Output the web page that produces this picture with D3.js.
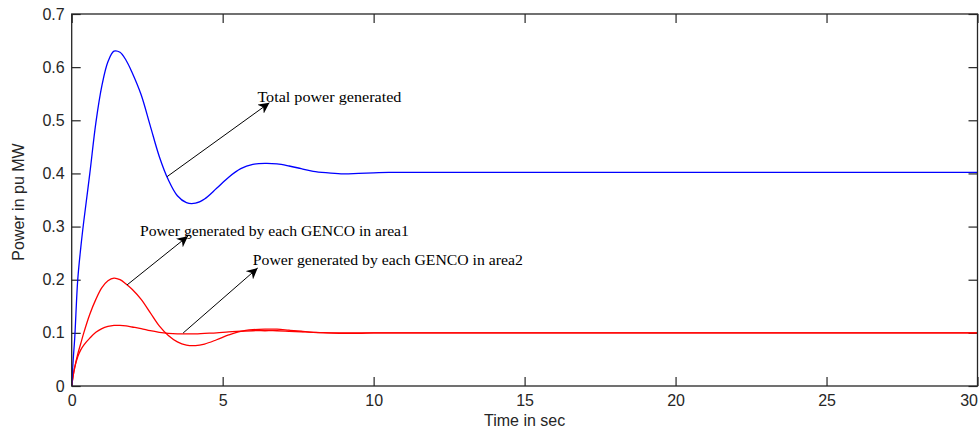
<!DOCTYPE html>
<html>
<head>
<meta charset="utf-8">
<script src="https://cdn.jsdelivr.net/npm/d3@7"></script>
<style>
  html, body { margin: 0; padding: 0; background: #fff; overflow: hidden; }
  svg { display: block; overflow: visible; }
</style>
</head>
<body>
<div id="chart"></div>
<script>
// Power generated vs time (step response, pu MW)

const time = [0, 0.05, 0.1, 0.2, 0.3, 0.4, 0.6, 0.8, 1.0, 1.2, 1.4, 1.6, 1.8, 2.0, 2.3, 2.6, 2.9, 3.2, 3.5, 3.8,
  4.1, 4.4, 4.8, 5.2, 5.6, 6.0, 6.4, 6.8, 7.2, 7.6, 8.0, 8.5, 9.0, 9.5, 10, 10.5, 11, 12, 14, 16, 20, 25, 30];

const totalPower = [0, 0.05, 0.09, 0.2, 0.26, 0.31, 0.40, 0.495, 0.565, 0.61, 0.63, 0.628, 0.613, 0.59, 0.548, 0.49, 0.432, 0.388, 0.358, 0.345,
  0.344, 0.352, 0.372, 0.393, 0.409, 0.417, 0.419, 0.418, 0.414, 0.409, 0.404, 0.401, 0.399, 0.400, 0.401, 0.402, 0.402, 0.402, 0.402, 0.402, 0.402, 0.402, 0.402];

const area1Power = [0, 0.02, 0.035, 0.06, 0.08, 0.1, 0.135, 0.163, 0.185, 0.198, 0.203, 0.2, 0.192, 0.182, 0.163, 0.138, 0.113, 0.095, 0.083, 0.077,
  0.076, 0.079, 0.087, 0.096, 0.103, 0.106, 0.107, 0.107, 0.105, 0.103, 0.101, 0.1, 0.099, 0.099, 0.1, 0.1, 0.1, 0.1, 0.1, 0.1, 0.1, 0.1, 0.1];

const area2Power = [0, 0.02, 0.035, 0.055, 0.068, 0.077, 0.09, 0.101, 0.108, 0.112, 0.114, 0.114, 0.113, 0.111, 0.108, 0.104, 0.101, 0.099, 0.098, 0.098,
  0.098, 0.099, 0.1, 0.102, 0.103, 0.104, 0.104, 0.104, 0.103, 0.102, 0.101, 0.1, 0.1, 0.1, 0.1, 0.1, 0.1, 0.1, 0.1, 0.1, 0.1, 0.1, 0.1];

const xTicks = [0, 5, 10, 15, 20, 25, 30];
const yTicks = [0, 0.1, 0.2, 0.3, 0.4, 0.5, 0.6, 0.7];
const yTickLabels = ["0", "0.1", "0.2", "0.3", "0.4", "0.5", "0.6", "0.7"];

// annotation text + arrow (from -> to) in data units
const annotationTexts = ["Total power generated", "Power generated by each GENCO in area1", "Power generated by each GENCO in area2"];
const annotationTextAt = [[6.15, 0.544], [2.26, 0.292], [6.0, 0.237]];
const arrowFrom = [[3.16, 0.394], [1.83, 0.19], [3.69, 0.0997]];
const arrowTo = [[6.55, 0.533], [3.85, 0.282], [6.16, 0.222]];

const width = 979;
const height = 434;
const margin = {top: 14, right: 1.5, bottom: 48, left: 71.7};
const innerWidth = width - margin.left - margin.right;
const innerHeight = height - margin.top - margin.bottom;

const svg = d3.select("#chart")
  .append("svg")
  .attr("width", width)
  .attr("height", height);

const g = svg.append("g")
  .attr("transform", `translate(${margin.left}, ${margin.top})`);

const x = d3.scaleLinear().domain([0, 30]).range([0, innerWidth]);
const y = d3.scaleLinear().domain([0, 0.7]).range([innerHeight, 0]);

const axisColor = "#262626";
const font = "'Liberation Sans', Arial, sans-serif";

function styleAxis(sel) {
  sel.select(".domain").remove();
  sel.selectAll(".tick line").attr("stroke", axisColor).attr("stroke-width", 1.2);
  sel.selectAll(".tick text").attr("fill", axisColor).style("font-family", font).style("font-size", "16px");
}

function noLabels(sel) {
  sel.selectAll(".tick text").remove();
}

g.append("g")
  .attr("transform", `translate(0, ${innerHeight})`)
  .call(d3.axisBottom(x).tickValues(xTicks).tickSizeInner(-9).tickSizeOuter(0).tickPadding(9))
  .call(styleAxis)
  .selectAll(".tick text")
  .attr("text-anchor", d => d === 30 ? "end" : "middle");

g.append("g")
  .call(d3.axisTop(x).tickValues(xTicks).tickSizeInner(-9).tickSizeOuter(0))
  .call(styleAxis)
  .call(noLabels);

g.append("g")
  .call(d3.axisLeft(y).tickValues(yTicks).tickSizeInner(-9).tickSizeOuter(0).tickPadding(7)
    .tickFormat((d, i) => yTickLabels[i]))
  .call(styleAxis);

g.append("g")
  .attr("transform", `translate(${innerWidth}, 0)`)
  .call(d3.axisRight(y).tickValues(yTicks).tickSizeInner(-9).tickSizeOuter(0))
  .call(styleAxis)
  .call(noLabels);

const line = d3.line()
  .x(d => x(d[0]))
  .y(d => y(d[1]))
  .curve(d3.curveCatmullRom.alpha(0.5));

const series = [
  {values: area2Power, color: "#ff0000"},
  {values: area1Power, color: "#ff0000"},
  {values: totalPower, color: "#0000ff"}
];

g.selectAll(".series")
  .data(series)
  .join("path")
  .attr("class", "series")
  .attr("fill", "none")
  .attr("stroke", d => d.color)
  .attr("stroke-width", 1.3)
  .attr("d", d => line(time.map((t, i) => [t, d.values[i]])));

// frame
g.append("rect")
  .attr("width", innerWidth)
  .attr("height", innerHeight)
  .attr("fill", "none")
  .attr("stroke", axisColor)
  .attr("stroke-width", 1.3);

// arrows
svg.append("defs").append("marker")
  .attr("id", "head")
  .attr("viewBox", "0 0 10 10")
  .attr("refX", 10)
  .attr("refY", 5)
  .attr("markerWidth", 11)
  .attr("markerHeight", 11)
  .attr("markerUnits", "userSpaceOnUse")
  .attr("orient", "auto")
  .append("path")
  .attr("d", "M0,0 L10,5 L0,10 L3,5 Z")
  .attr("fill", "#000");

g.selectAll(".arrow")
  .data(arrowFrom)
  .join("line")
  .attr("class", "arrow")
  .attr("x1", d => x(d[0]))
  .attr("y1", d => y(d[1]))
  .attr("x2", (d, i) => x(arrowTo[i][0]))
  .attr("y2", (d, i) => y(arrowTo[i][1]))
  .attr("stroke", "#000")
  .attr("stroke-width", 1)
  .attr("marker-end", "url(#head)");

const annWidths = [144, 269, 270];
g.selectAll(".ann")
  .data(annotationTexts)
  .join("text")
  .attr("class", "ann")
  .attr("x", (d, i) => x(annotationTextAt[i][0]))
  .attr("y", (d, i) => y(annotationTextAt[i][1]))
  .attr("dy", "0.35em")
  .attr("textLength", (d, i) => annWidths[i])
  .attr("lengthAdjust", "spacingAndGlyphs")
  .style("font-family", "'Liberation Serif', 'Times New Roman', serif")
  .style("font-size", "14px")
  .attr("fill", "#000")
  .text(d => d);

// axis titles
svg.append("text")
  .attr("x", margin.left + innerWidth / 2)
  .attr("y", 426)
  .attr("text-anchor", "middle")
  .style("font-family", font)
  .style("font-size", "16px")
  .attr("fill", axisColor)
  .text("Time in sec");

svg.append("text")
  .attr("transform", "translate(24, 202) rotate(-90)")
  .attr("text-anchor", "middle")
  .style("font-family", font)
  .style("font-size", "16px")
  .attr("fill", axisColor)
  .text("Power in pu MW");
</script>
</body>
</html>
